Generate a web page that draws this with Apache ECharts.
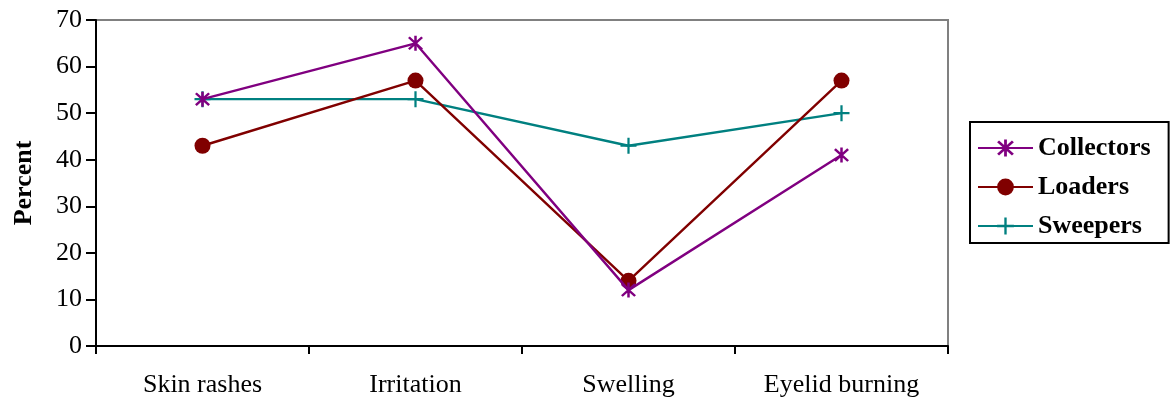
<!DOCTYPE html>
<html>
<head>
<meta charset="utf-8">
<script src="https://cdn.jsdelivr.net/npm/echarts@6/dist/echarts.min.js"></script>
<style>html,body{margin:0;padding:0;background:#fff;}#c{width:1171px;height:400px;}</style>
</head>
<body>
<div id="c"></div>
<script>
var categories = ['Skin rashes', 'Irritation', 'Swelling', 'Eyelid burning'];
var collectors = [53, 65, 12, 41];
var loaders = [43, 57, 14, 57];
var sweepers = [53, 53, 43, 50];
var yTicks = [0, 10, 20, 30, 40, 50, 60, 70];

var starPath = 'path://M8.5 0L11.5 0L11.5 20L8.5 20Z M3.1 1L19 16.9L16.9 19L1 3.1Z M16.9 1L19 3.1L3.1 19L1 16.9Z';
var plusPath = 'path://M8.6 0L11.4 0L11.4 20L8.6 20Z M0 8.6L20 8.6L20 11.4L0 11.4Z';
var font = 'Liberation Serif';

var chart = echarts.init(document.getElementById('c'), null, {renderer: 'canvas'});
chart.setOption({
  backgroundColor: '#fff',
  animation: false,
  grid: {left: 96, top: 20, width: 852, height: 326, show: true, borderColor: '#808080', borderWidth: 2, backgroundColor: '#fff'},
  legend: {
    orient: 'vertical', left: 970, top: 122,
    padding: [13, 18, 4, 7],
    borderColor: '#000', borderWidth: 2,
    itemWidth: 55, itemHeight: 21, itemGap: 13,
    textStyle: {fontFamily: font, fontSize: 26, fontWeight: 'bold', color: '#000', lineHeight: 26},
    data: ['Collectors', 'Loaders', 'Sweepers']
  },
  xAxis: {
    type: 'category', data: categories, boundaryGap: true,
    axisLine: {lineStyle: {color: '#000', width: 2}},
    axisTick: {show: true, length: 8, lineStyle: {color: '#000', width: 2}},
    axisLabel: {fontFamily: font, fontSize: 26, color: '#000', margin: 26},
    splitLine: {show: false}
  },
  yAxis: {
    type: 'value', min: 0, max: 70, interval: 10,
    name: 'Percent', nameLocation: 'middle', nameGap: 59,
    nameTextStyle: {fontFamily: font, fontSize: 26, fontWeight: 'bold', color: '#000'},
    axisLine: {show: true, lineStyle: {color: '#000', width: 2}},
    axisTick: {show: true, length: 10, lineStyle: {color: '#000', width: 2}},
    axisLabel: {fontFamily: font, fontSize: 26, color: '#000', margin: 14,
      formatter: function(v){ return yTicks.indexOf(v) >= 0 ? String(v) : ''; }},
    splitLine: {show: false}
  },
  series: [
    {name: 'Collectors', type: 'line', data: collectors, symbol: starPath, symbolSize: 15,
      lineStyle: {color: '#800080', width: 2.4}, itemStyle: {color: '#800080'}, z: 3},
    {name: 'Loaders', type: 'line', data: loaders, symbol: 'circle', symbolSize: 16,
      lineStyle: {color: '#800000', width: 2.4}, itemStyle: {color: '#800000'}, z: 2},
    {name: 'Sweepers', type: 'line', data: sweepers, symbol: plusPath, symbolSize: 16,
      lineStyle: {color: '#008080', width: 2.4}, itemStyle: {color: '#008080'}, z: 1}
  ]
});
</script>
</body>
</html>
